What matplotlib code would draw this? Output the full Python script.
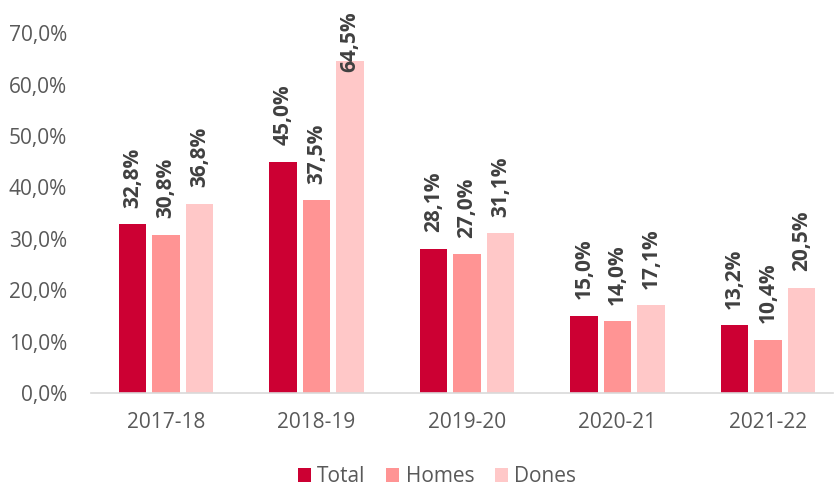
import matplotlib
matplotlib.use("Agg")
import matplotlib.pyplot as plt
import numpy as np

# Data
years = ["2017-18", "2018-19", "2019-20", "2020-21", "2021-22"]
total = [32.8, 45.0, 28.1, 15.0, 13.2]
homes = [30.8, 37.5, 27.0, 14.0, 10.4]
dones = [36.8, 64.5, 31.1, 17.1, 20.5]

series = [("Total", total, "#CC0033"),
          ("Homes", homes, "#FF9494"),
          ("Dones", dones, "#FFC8C8")]

plt.rcParams['font.family'] = ['Open Sans', 'DejaVu Sans']

fig = plt.figure(figsize=(8.34, 4.87), dpi=100)
ax = fig.add_axes([0.1088, 0.193, 0.8897, 0.739])

x = np.arange(len(years))
width = 0.183
offset = 0.223

for i, (name, vals, col) in enumerate(series):
    pos = x + (i - 1) * offset
    ax.bar(pos, vals, width, color=col, label=name)
    for p, v in zip(pos, vals):
        # labels are kept inside the picture, like Excel does
        ax.text(p, min(v + 3.2, 62.4), f"{v:.1f}%".replace(".", ","),
                rotation=90, ha="center", va="bottom", fontsize=15,
                fontweight="bold", color="#404040", clip_on=False)

ax.set_xlim(-0.5, 4.43)
ax.set_ylim(0, 70)
ax.set_yticks(np.arange(0, 71, 10))
ax.set_yticklabels([f"{t:.1f}%".replace(".", ",") for t in np.arange(0, 71, 10)])
ax.set_xticks(x)
ax.set_xticklabels(years)
ax.tick_params(axis="both", length=0, labelsize=15, colors="#595959")
ax.tick_params(axis="x", pad=14)
ax.tick_params(axis="y", pad=17)

for s in ["top", "right", "left"]:
    ax.spines[s].set_visible(False)
ax.spines["bottom"].set_color("#D9D9D9")
ax.spines["bottom"].set_linewidth(1.2)

fig.legend(*ax.get_legend_handles_labels(), loc="center",
           bbox_to_anchor=(0.524, 10 / 487), ncol=3, frameon=False,
           fontsize=15, handlelength=0.63, handleheight=0.63,
           handletextpad=0.3, columnspacing=1.0, labelcolor="#595959",
           borderpad=0, borderaxespad=0)

fig.savefig("out.png", dpi=100)
